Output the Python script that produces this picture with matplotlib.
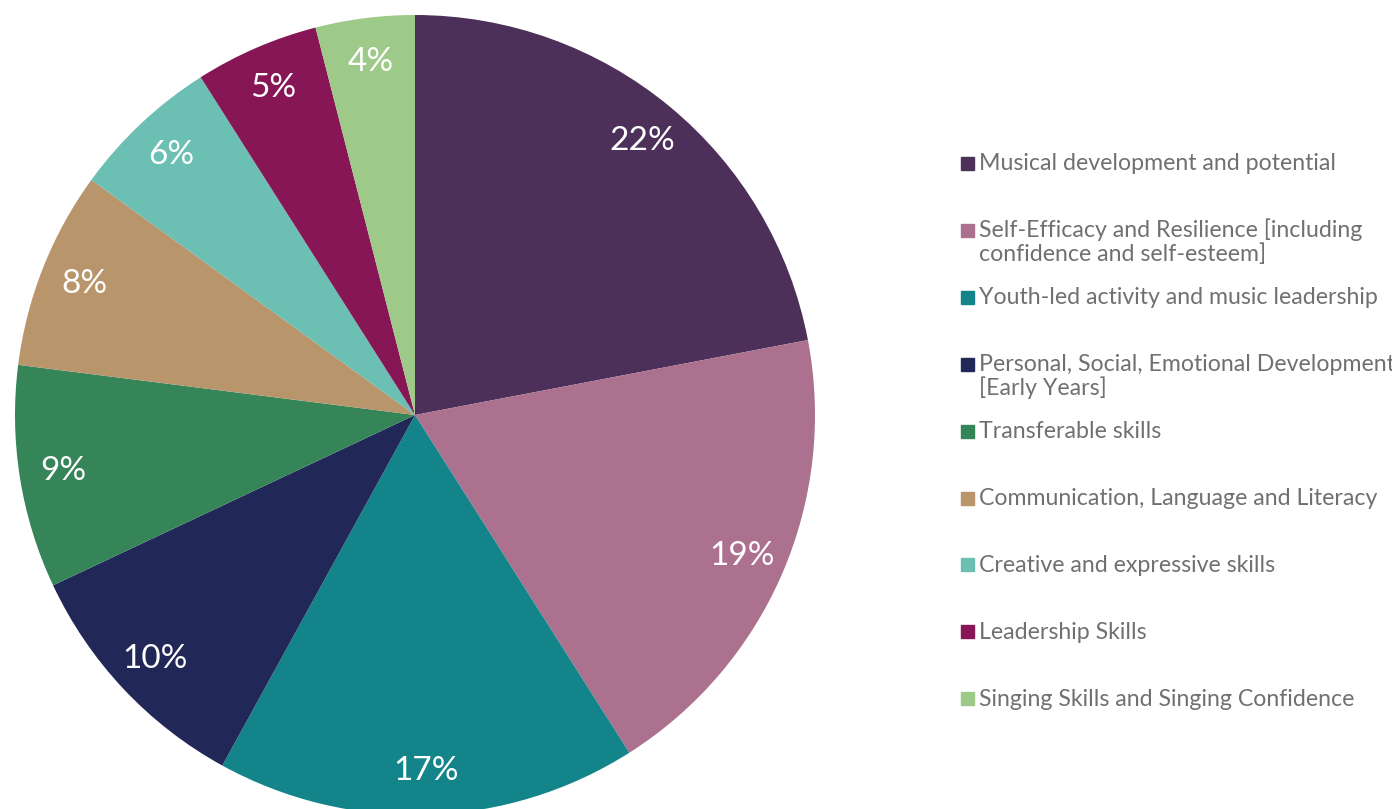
import matplotlib
matplotlib.use("Agg")
import matplotlib.pyplot as plt

# outcome areas, share of responses (%)
categories = [
    "Musical development and potential",
    "Self-Efficacy and Resilience [including\nconfidence and self-esteem]",
    "Youth-led activity and music leadership",
    "Personal, Social, Emotional Development\n[Early Years]",
    "Transferable skills",
    "Communication, Language and Literacy",
    "Creative and expressive skills",
    "Leadership Skills",
    "Singing Skills and Singing Confidence",
]
shares = [22, 19, 17, 10, 9, 8, 6, 5, 4]
colors = ["#4D3059", "#AB718F", "#13858A", "#212756", "#358559",
          "#B9956C", "#6BBFB3", "#861655", "#9DCA89"]

plt.rcParams["font.family"] = ["Lato", "DejaVu Sans"]

W, H = 1392, 809
fig = plt.figure(figsize=(W / 100, H / 100), dpi=100)

# pie centred at (415, 415) px from top-left, radius 400 px
cx, cy, r = 415, 415, 400
ax = fig.add_axes([(cx - r) / W, (H - cy - r) / H, 2 * r / W, 2 * r / H])
ax.pie(shares, colors=colors, startangle=90, counterclock=False,
       autopct="%d%%", pctdistance=0.89,
       textprops=dict(color="white", fontsize=24),
       wedgeprops=dict(linewidth=0))
ax.set_xlim(-1, 1)
ax.set_ylim(-1, 1)
ax.set_aspect("equal")
ax.axis("off")

# legend: square marker + grey text, first lines evenly spaced
y0, step, line_gap = 163.5, 66.9, 24
for i, (lab, col) in enumerate(zip(categories, colors)):
    y = y0 + i * step
    fig.patches.append(plt.Rectangle((961 / W, (H - y - 6.5) / H), 12.5 / W, 13 / H,
                                     transform=fig.transFigure, color=col))
    for k, line in enumerate(lab.split("\n")):
        fig.text(979 / W, (H - y - 7 - k * line_gap) / H, line,
                 ha="left", va="baseline", fontsize=16.7, color="#707070")

fig.savefig("out.png", dpi=100)
